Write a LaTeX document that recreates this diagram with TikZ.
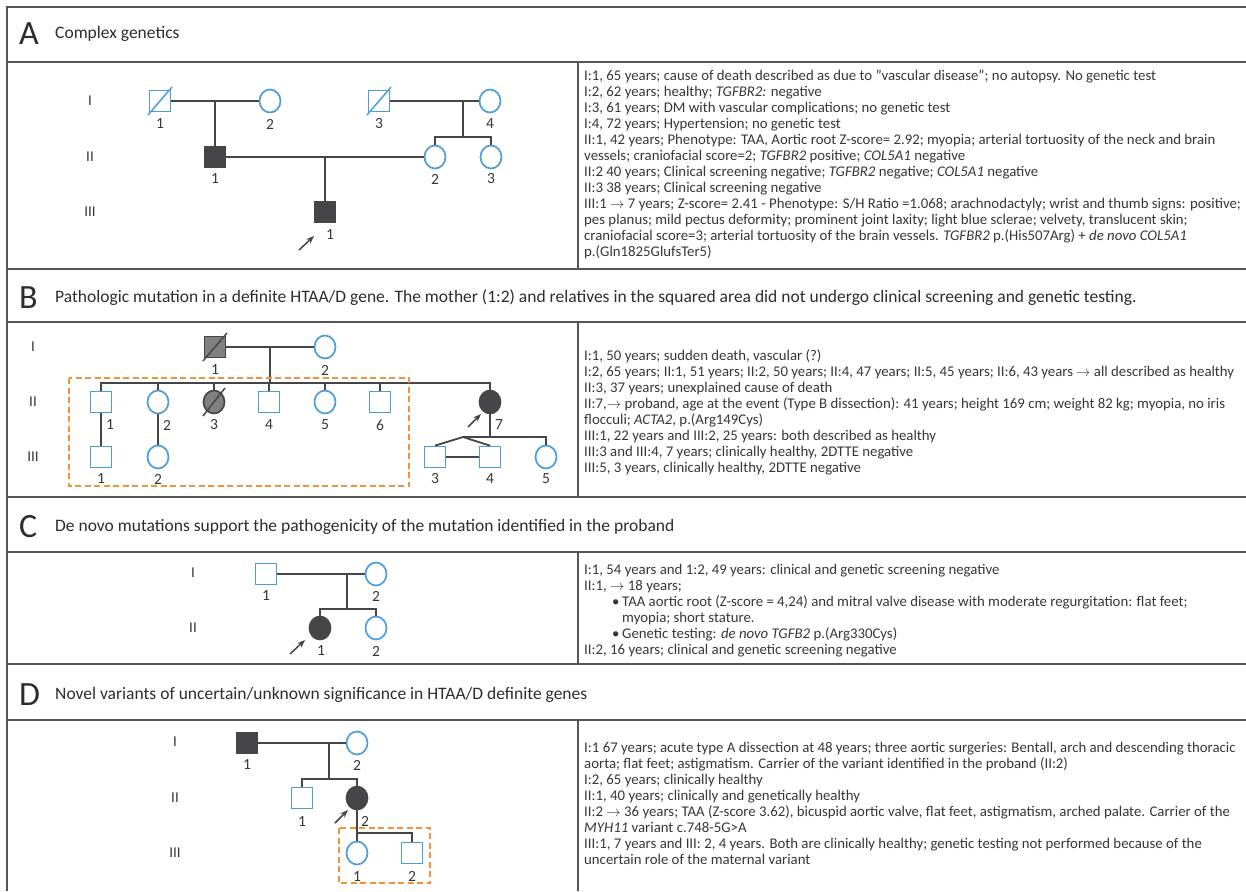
\documentclass[tikz,border=0pt]{standalone}
\usepackage{fontspec}
\setmainfont{Carlito}
\usetikzlibrary{shapes.geometric,arrows.meta}
\definecolor{pblue}{RGB}{77,157,219}
\definecolor{dk}{RGB}{70,70,72}
\definecolor{gy}{RGB}{128,128,128}
\definecolor{frm}{RGB}{85,85,85}
\definecolor{txt}{RGB}{55,55,55}
\definecolor{ttx}{RGB}{45,45,45}
\definecolor{orn}{RGB}{242,146,58}
\newcommand{\fl}{\rule{0pt}{11pt}}
\tikzset{
  sq/.style={rectangle, draw=pblue, line width=1.7pt, minimum width=21pt, minimum height=21pt, inner sep=0pt},
  ci/.style={ellipse, draw=pblue, line width=1.7pt, minimum width=21pt, minimum height=23pt, inner sep=0pt},
  aff/.style={draw=dk, fill=dk},
  gry/.style={draw=dk, fill=gy},
  pl/.style={draw=dk, line width=1.8pt},
  bslash/.style={draw=pblue, line width=1.5pt},
  dslash/.style={draw=dk, line width=1.5pt},
  lbl/.style={font=\fontsize{15.5}{15.5}\selectfont, text=txt, inner sep=0pt},
  gen/.style={font=\fontsize{15}{15}\selectfont, text=txt, inner sep=0pt},
  prob/.style={draw=dk, line width=1.5pt, -{Stealth[length=8pt,width=6pt]}},
  dbox/.style={draw=orn, line width=1.8pt, dash pattern=on 6pt off 3.5pt},
  boxline/.style={draw=frm, line width=1.8pt},
  body/.style={anchor=north west, align=left, inner sep=0pt, text=txt, font=\fontsize{14.8}{16}\selectfont},
  ttl/.style={anchor=base west, inner sep=0pt, text=ttx, font=\fontsize{17.5}{17.5}\selectfont},
  big/.style={anchor=base west, inner sep=0pt, text=ttx, font=\fontsize{34}{34}\selectfont}
}
\begin{document}
\begin{tikzpicture}[x=1pt,y=-1pt]
\useasboundingbox (0,0) rectangle (1246,891);
\fill[white] (0,0) rectangle (1246,891);
% frame
\draw[boxline] (1246,7) -- (7,7) -- (7,891);
\foreach \yy in {62,269,322,497,552,664,720} \draw[boxline] (7,\yy) -- (1246,\yy);
\draw[boxline] (578,62) -- (578,269);
\draw[boxline] (578,322) -- (578,497);
\draw[boxline] (578,552) -- (578,664);
\draw[boxline] (578,720) -- (578,891);
% headers
\node[big] (hA) at (19,45) {A};
\node[ttl] (tA) at (55,39) {Complex genetics};
\node[big] (hB) at (19,308) {B};
\node[ttl] (tB) at (55,302) {Pathologic mutation in a definite HTAA/D gene. The mother (1:2) and relatives in the squared area did not undergo clinical screening and genetic testing.};
\node[big] (hC) at (19,537) {C};
\node[ttl] (tC) at (55,531) {De novo mutations support the pathogenicity of the mutation identified in the proband};
\node[big] (hD) at (19,705) {D};
\node[ttl] (tD) at (55,699) {Novel variants of uncertain/unknown significance in HTAA/D definite genes};

% ===== A pedigree
\node[gen] (agI) at (90,101) {I};
\node[gen] (agII) at (90,157) {II};
\node[gen] (agIII) at (90,212) {III};
\node[sq] (a11) at (160,101) {};
\node[ci] (a12) at (270,101) {};
\node[sq] (a13) at (379,101) {};
\node[ci] (a14) at (490,101) {};
\node[sq,aff] (a21) at (215,157) {};
\node[ci] (a22) at (435,157) {};
\node[ci] (a23) at (491,157) {};
\node[sq,aff] (a31) at (325,212) {};
\draw[bslash] ([shift={(-12,14)}]a11.center) -- ([shift={(12,-14)}]a11.center);
\draw[bslash] ([shift={(-12,14)}]a13.center) -- ([shift={(12,-14)}]a13.center);
\coordinate (a1m) at (215,101);
\coordinate (a2m) at (463,101);
\coordinate (a2s) at (463,137);
\coordinate (a3m) at (325,157);
\draw[pl] (a11) -- (a12);
\draw[pl] (a1m) -- (a21);
\draw[pl] (a13) -- (a14);
\draw[pl] (a2m) -- (a2s);
\draw[pl] (a22) -- (a22|-a2s) -- (a23|-a2s) -- (a23);
\draw[pl] (a21) -- (a22);
\draw[pl] (a3m) -- (a31);
\coordinate (apa) at (299,250);
\coordinate (apb) at (314,236);
\draw[prob] (apa) -- (apb);
\node[lbl] (la11) at (160,124) {1};
\node[lbl] (la12) at (270,124) {2};
\node[lbl] (la13) at (379,124) {3};
\node[lbl] (la14) at (490,124) {4};
\node[lbl] (la21) at (215,179) {1};
\node[lbl] (la22) at (435,179) {2};
\node[lbl] (la23) at (491,179) {3};
\node[lbl] (la31) at (330,235) {1};

\node[body] (txA) at (584,69) {\fl I:1, 65 years; cause of death described as due to "vascular disease"; no autopsy. No genetic test\\
I:2, 62 years; healthy; \textit{TGFBR2:} negative\\
I:3, 61 years; DM with vascular complications; no genetic test\\
I:4, 72 years; Hypertension; no genetic test\\
II:1, 42 years; Phenotype: TAA, Aortic root Z-score= 2.92; myopia; arterial tortuosity of the neck and brain\\
vessels; craniofacial score=2; \textit{TGFBR2} positive; \textit{COL5A1} negative\\
II:2 40 years; Clinical screening negative; \textit{TGFBR2} negative; \textit{COL5A1} negative\\
II:3 38 years; Clinical screening negative\\
III:1 $\rightarrow$ 7 years; Z-score= 2.41 - Phenotype: S/H Ratio =1.068; arachnodactyly; wrist and thumb signs: positive;\\
pes planus; mild pectus deformity; prominent joint laxity; light blue sclerae; velvety, translucent skin;\\
craniofacial score=3; arterial tortuosity of the brain vessels. \textit{TGFBR2} p.(His507Arg) + \textit{de novo COL5A1}\\
p.(Gln1825GlufsTer5)};

% ===== B pedigree
\node[gen] (bgI) at (33,347) {I};
\node[gen] (bgII) at (33,402) {II};
\node[gen] (bgIII) at (33,457) {III};
\node[sq,gry] (b11) at (215,347) {};
\node[ci] (b12) at (325,347) {};
\draw[dslash] ([shift={(-12,14)}]b11.center) -- ([shift={(12,-14)}]b11.center);
\node[sq] (b21) at (101,402) {};
\node[ci] (b22) at (158,402) {};
\node[ci,gry] (b23) at (214,402) {};
\draw[dslash] ([shift={(-11,14)}]b23.center) -- ([shift={(11,-14)}]b23.center);
\node[sq] (b24) at (269,402) {};
\node[ci] (b25) at (325,402) {};
\node[sq] (b26) at (380,402) {};
\node[ci,aff] (b27) at (490,402) {};
\node[sq] (b31) at (101,457) {};
\node[ci] (b32) at (158,457) {};
\node[sq] (b33) at (435,457) {};
\node[sq] (b34) at (490,457) {};
\node[ci] (b35) at (546,457) {};
\coordinate (b1m) at (270,347);
\coordinate (b2s) at (270,383);
\coordinate (b3a) at (463,437);
\coordinate (b3s) at (490,437);
\draw[pl] (b11) -- (b12);
\draw[pl] (b1m) -- (b2s);
\draw[pl] (b21) -- (b21|-b2s) -- (b27|-b2s) -- (b27);
\foreach \n in {b22,b23,b24,b25,b26} \draw[pl] (\n|-b2s) -- (\n);
\draw[pl] (b21) -- (b31);
\draw[pl] (b22) -- (b32);
\draw[pl] (b27) -- (b3s);
\draw[pl] (b3a) -- (b35|-b3a) -- (b35);
\draw[pl] (b33.north) -- (b3a) -- (b34.north);
\draw[pl] (b33) -- (b34);
\coordinate (bpa) at (468,427);
\coordinate (bpb) at (481,414);
\draw[prob] (bpa) -- (bpb);
\draw[dbox] (69,378) rectangle (409,486);
\node[lbl] (lb11) at (215,370) {1};
\node[lbl] (lb12) at (325,370) {2};
\node[lbl] (lb21) at (110,425) {1};
\node[lbl] (lb22) at (167,425) {2};
\node[lbl] (lb23) at (214,425) {3};
\node[lbl] (lb24) at (269,425) {4};
\node[lbl] (lb25) at (325,425) {5};
\node[lbl] (lb26) at (380,425) {6};
\node[lbl] (lb27) at (499,425) {7};
\node[lbl] (lb31) at (101,479) {1};
\node[lbl] (lb32) at (158,479) {2};
\node[lbl] (lb33) at (435,479) {3};
\node[lbl] (lb34) at (490,479) {4};
\node[lbl] (lb35) at (546,479) {5};

\node[body] (txB) at (584,349) {\fl I:1, 50 years; sudden death, vascular (?)\\
I:2, 65 years; II:1, 51 years; II:2, 50 years; II:4, 47 years; II:5, 45 years; II:6, 43 years $\rightarrow$ all described as healthy\\
II:3, 37 years; unexplained cause of death\\
II:7,$\rightarrow$ proband, age at the event (Type B dissection): 41 years; height 169 cm; weight 82 kg; myopia, no iris\\
flocculi; \textit{ACTA2}, p.(Arg149Cys)\\
III:1, 22 years and III:2, 25 years: both described as healthy\\
III:3 and III:4, 7 years; clinically healthy, 2DTTE negative\\
III:5, 3 years, clinically healthy, 2DTTE negative};

% ===== C pedigree
\node[gen] (cgI) at (193,573) {I};
\node[gen] (cgII) at (193,628) {II};
\node[sq] (c11) at (266,574) {};
\node[ci] (c12) at (376,574) {};
\node[ci,aff] (c21) at (320,628) {};
\node[ci] (c22) at (376,628) {};
\coordinate (c1m) at (347,574);
\coordinate (c2s) at (347,609);
\draw[pl] (c11) -- (c12);
\draw[pl] (c1m) -- (c2s);
\draw[pl] (c21) -- (c21|-c2s) -- (c22|-c2s) -- (c22);
\coordinate (cpa) at (290,654);
\coordinate (cpb) at (305,640);
\draw[prob] (cpa) -- (cpb);
\node[lbl] (lc11) at (266,596) {1};
\node[lbl] (lc12) at (376,596) {2};
\node[lbl] (lc21) at (321,651) {1};
\node[lbl] (lc22) at (376,651) {2};

\node[body] (txC) at (584,563) {\fl I:1, 54 years and 1:2, 49 years: clinical and genetic screening negative\\
II:1, $\rightarrow$ 18 years;\\
\hspace*{28pt}\makebox[10pt][l]{\textbullet}TAA aortic root (Z-score = 4,24) and mitral valve disease with moderate regurgitation: flat feet;\\
\hspace*{38pt}myopia; short stature.\\
\hspace*{28pt}\makebox[10pt][l]{\textbullet}Genetic testing: \textit{de novo TGFB2} p.(Arg330Cys)\\
II:2, 16 years; clinical and genetic screening negative};

% ===== D pedigree
\node[gen] (dgI) at (175,742) {I};
\node[gen] (dgII) at (175,798) {II};
\node[gen] (dgIII) at (175,853) {III};
\node[sq,aff] (d11) at (247,743) {};
\node[ci] (d12) at (357,743) {};
\node[sq] (d21) at (302,798) {};
\node[ci,aff] (d22) at (357,798) {};
\node[ci] (d31) at (357,853) {};
\node[sq] (d32) at (412,853) {};
\coordinate (d1m) at (329,743);
\coordinate (d2s) at (329,779);
\coordinate (d3s) at (357,833);
\draw[pl] (d11) -- (d12);
\draw[pl] (d1m) -- (d2s);
\draw[pl] (d21) -- (d21|-d2s) -- (d22|-d2s) -- (d22);
\draw[pl] (d22) -- (d31);
\draw[pl] (d3s) -- (d32|-d3s) -- (d32);
\coordinate (dpa) at (335,823);
\coordinate (dpb) at (348,810);
\draw[prob] (dpa) -- (dpb);
\draw[dbox] (339,828) rectangle (430,883);
\node[lbl] (ld11) at (247,765) {1};
\node[lbl] (ld12) at (357,765) {2};
\node[lbl] (ld21) at (302,821) {1};
\node[lbl] (ld22) at (365,821) {2};
\node[lbl] (ld31) at (357,876) {1};
\node[lbl] (ld32) at (412,876) {2};

\node[body] (txD) at (584,741) {\fl I:1 67 years; acute type A dissection at 48 years; three aortic surgeries: Bentall, arch and descending thoracic\\
aorta; flat feet; astigmatism. Carrier of the variant identified in the proband (II:2)\\
I:2, 65 years; clinically healthy\\
II:1, 40 years; clinically and genetically healthy\\
II:2 $\rightarrow$ 36 years; TAA (Z-score 3.62), bicuspid aortic valve, flat feet, astigmatism, arched palate. Carrier of the\\
\textit{MYH11} variant c.748-5G>A\\
III:1, 7 years and III: 2, 4 years. Both are clinically healthy; genetic testing not performed because of the\\
uncertain role of the maternal variant};
\end{tikzpicture}
\end{document}
